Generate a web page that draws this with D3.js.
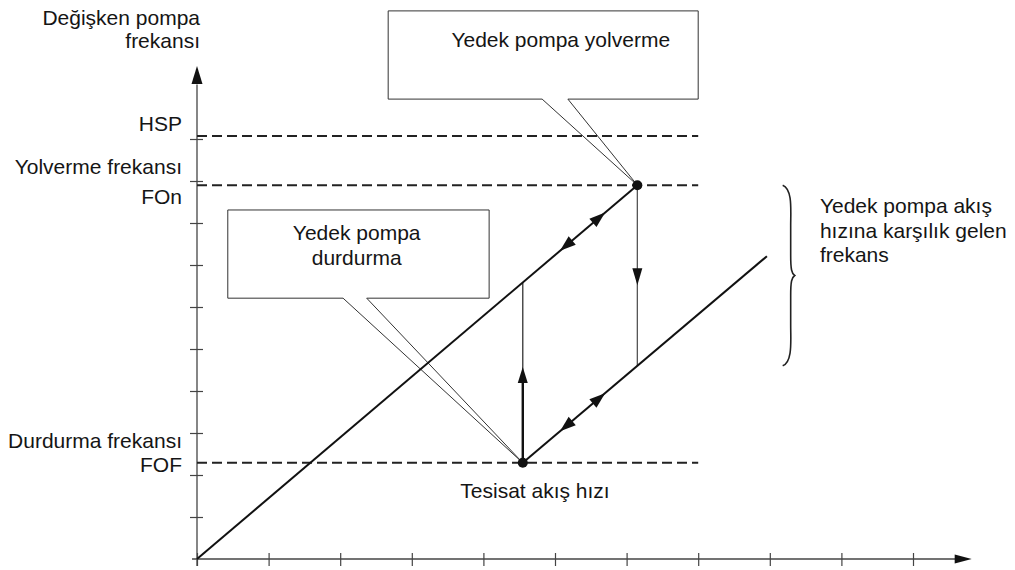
<!DOCTYPE html>
<html>
<head>
<meta charset="utf-8">
<script src="https://cdn.jsdelivr.net/npm/d3@7"></script>
<style>
body { margin: 0; background: #fff; }
text { font-family: "Liberation Sans", Arial, sans-serif; font-size: 21px; fill: #151515; }
</style>
</head>
<body>
<script>
// chart units: x = flow, y = pump frequency
var xTicks = [0, 1, 2, 3, 4, 5, 6, 7, 8, 9, 10];
var yTicks = [1, 2, 3, 4, 5, 6, 7, 8, 9, 10];

var levelNames = ["HSP", "FOn", "FOF"];
var levelValues = [10.07, 8.9, 2.29];
var levelLabels = [["HSP"], ["Yolverme frekansı", "FOn"], ["Durdurma frekansı", "FOF"]];
var levelEnd = 7;

var mainLine = [[0, 0], [6.15, 8.9]];
var standbyLine = [[4.55, 2.29], [7.96, 7.21]];
var startPoint = [6.15, 8.9];
var stopPoint = [4.55, 2.29];
var lineArrowsX = [5.07, 5.70];
var upArrowTip = 4.57;
var downArrowTip = 6.52;

var yTitle = ["Değişken pompa", "frekansı"];
var xTitle = "Tesisat akış hızı";
var startText = ["Yedek pompa yolverme"];
var stopText = ["Yedek pompa", "durdurma"];
var braceText = ["Yedek pompa akış", "hızına karşılık gelen", "frekans"];

var width = 1015, height = 570;

var svg = d3.select("body").append("svg")
    .attr("width", width)
    .attr("height", height);

var x = d3.scaleLinear().domain([0, 10]).range([197, 913]);
var y = d3.scaleLinear().domain([0, 10]).range([559, 139]);

function lineY(l, t) {
  var s = (l[1][1] - l[0][1]) / (l[1][0] - l[0][0]);
  return l[0][1] + s * (t - l[0][0]);
}

function arrowHead(g, tip, a, len, half) {
  var bx = tip[0] - len * Math.cos(a), by = tip[1] - len * Math.sin(a);
  var px = -Math.sin(a) * half, py = Math.cos(a) * half;
  g.append("path")
    .attr("d", "M" + tip[0] + "," + tip[1] + "L" + (bx + px) + "," + (by + py) + "L" + (bx - px) + "," + (by - py) + "Z")
    .attr("fill", "#111");
}

// callouts (drawn first so lines sit on top)
var callouts = svg.append("g");
function callout(x0, x1, y0, y1, b0, b1, target, textX, lines, baseY) {
  var p = "M" + x(x0) + "," + y(y0) + "H" + x(x1) + "V" + y(y1) + "H" + x(b1) +
          "L" + x(target[0]) + "," + y(target[1]) + "L" + x(b0) + "," + y(y1) + "H" + x(x0) + "Z";
  callouts.append("path").attr("d", p).attr("fill", "#fff").attr("stroke", "#333").attr("stroke-width", 1);
  callouts.selectAll(null).data(lines).enter().append("text")
    .attr("x", x(textX))
    .attr("y", function(d, i) { return baseY + i * 25; })
    .attr("text-anchor", "middle")
    .text(function(d) { return d; });
}
callout(2.67, 7.0, 13.05, 10.95, 4.82, 5.18, startPoint, 5.08, startText, 47);
callout(0.43, 4.08, 8.31, 6.21, 2.04, 2.37, stopPoint, 2.23, stopText, 240);

// axes
var xAxis = svg.append("g").attr("transform", "translate(0," + y(0) + ")")
    .call(d3.axisBottom(x).tickValues(xTicks).tickSize(7).tickSizeOuter(0).tickFormat(""));
xAxis.select(".domain").remove();
xAxis.selectAll(".tick line").attr("y1", -6).attr("stroke", "#444").attr("stroke-width", 1.2);

var yAxis = svg.append("g").attr("transform", "translate(" + x(0) + ",0)")
    .call(d3.axisLeft(y).tickValues(yTicks).tickSize(7).tickSizeOuter(0).tickFormat(""));
yAxis.select(".domain").remove();
yAxis.selectAll(".tick line").attr("x1", 6).attr("stroke", "#444").attr("stroke-width", 1.2);

svg.append("line").attr("x1", x(0) - 5).attr("x2", x(10.6)).attr("y1", y(0)).attr("y2", y(0))
  .attr("stroke", "#444").attr("stroke-width", 1.3);
svg.append("line").attr("x1", x(0)).attr("x2", x(0)).attr("y1", y(0) + 7).attr("y2", y(11.3))
  .attr("stroke", "#444").attr("stroke-width", 1.3);
arrowHead(svg, [x(10.82), y(0)], 0, 17, 4.5);
arrowHead(svg, [x(0), y(11.74)], -Math.PI / 2, 18, 5.5);

// level lines
svg.selectAll(".level").data(levelValues).enter().append("line")
  .attr("class", "level")
  .attr("x1", x(0)).attr("x2", x(levelEnd))
  .attr("y1", function(d) { return y(d); })
  .attr("y2", function(d) { return y(d); })
  .attr("stroke", "#222").attr("stroke-width", 2)
  .attr("stroke-dasharray", "10,5");

// level labels
var labelOffsets = [[-5], [-11, 19], [-15, 9]];
levelLabels.forEach(function(lines, i) {
  svg.selectAll(null).data(lines).enter().append("text")
    .attr("x", 182)
    .attr("y", function(d, j) { return y(levelValues[i]) + labelOffsets[i][j]; })
    .attr("text-anchor", "end")
    .text(function(d) { return d; });
});

// axis titles
svg.selectAll(null).data(yTitle).enter().append("text")
  .attr("x", 200).attr("y", function(d, i) { return 25 + i * 23; })
  .attr("text-anchor", "end")
  .text(function(d) { return d; });
svg.append("text").attr("x", 535).attr("y", 498).attr("text-anchor", "middle").text(xTitle);

// vertical transitions
svg.append("line")
  .attr("x1", x(stopPoint[0])).attr("x2", x(stopPoint[0]))
  .attr("y1", y(upArrowTip) + 14).attr("y2", y(lineY(mainLine, stopPoint[0])))
  .attr("stroke", "#333").attr("stroke-width", 1.3);
svg.append("line")
  .attr("x1", x(stopPoint[0])).attr("x2", x(stopPoint[0]))
  .attr("y1", y(stopPoint[1])).attr("y2", y(upArrowTip) + 10)
  .attr("stroke", "#111").attr("stroke-width", 2.4);
arrowHead(svg, [x(stopPoint[0]), y(upArrowTip)], -Math.PI / 2, 16, 5);

svg.append("line")
  .attr("x1", x(startPoint[0])).attr("x2", x(startPoint[0]))
  .attr("y1", y(startPoint[1])).attr("y2", y(lineY(standbyLine, startPoint[0])))
  .attr("stroke", "#555").attr("stroke-width", 1.3);
arrowHead(svg, [x(startPoint[0]), y(downArrowTip)], Math.PI / 2, 17, 5);

// frequency lines
var line = d3.line().x(function(d) { return x(d[0]); }).y(function(d) { return y(d[1]); });
[mainLine, standbyLine].forEach(function(l) {
  svg.append("path").attr("d", line(l)).attr("fill", "none")
    .attr("stroke", "#111").attr("stroke-width", 2);
  var ang = Math.atan2(y(l[1][1]) - y(l[0][1]), x(l[1][0]) - x(l[0][0]));
  arrowHead(svg, [x(lineArrowsX[1]), y(lineY(l, lineArrowsX[1]))], ang, 16, 5.5);
  arrowHead(svg, [x(lineArrowsX[0]), y(lineY(l, lineArrowsX[0]))], ang + Math.PI, 16, 5.5);
});

// switch points
svg.selectAll(".pt").data([startPoint, stopPoint]).enter().append("circle")
  .attr("class", "pt")
  .attr("cx", function(d) { return x(d[0]); })
  .attr("cy", function(d) { return y(d[1]); })
  .attr("r", 5).attr("fill", "#111");

// brace for standby pump frequency span
var bx = x(8.18), bTop = y(startPoint[1]), bBot = y(lineY(standbyLine, startPoint[0])), bMid = (bTop + bBot) / 2;
svg.append("path")
  .attr("d", "M" + bx + "," + bTop +
    "C" + (bx + 10) + "," + (bTop + 4) + " " + (bx + 8) + "," + (bTop + 25) + " " + (bx + 8) + "," + (bTop + 40) +
    "L" + (bx + 8) + "," + (bMid - 20) +
    "C" + (bx + 8) + "," + (bMid - 6) + " " + (bx + 9) + "," + (bMid - 2) + " " + (bx + 12) + "," + bMid +
    "C" + (bx + 9) + "," + (bMid + 2) + " " + (bx + 8) + "," + (bMid + 6) + " " + (bx + 8) + "," + (bMid + 20) +
    "L" + (bx + 8) + "," + (bBot - 40) +
    "C" + (bx + 8) + "," + (bBot - 25) + " " + (bx + 10) + "," + (bBot - 4) + " " + bx + "," + bBot)
  .attr("fill", "none").attr("stroke", "#222").attr("stroke-width", 1.6);

svg.selectAll(null).data(braceText).enter().append("text")
  .attr("x", x(8.7))
  .attr("y", function(d, i) { return 213 + i * 24.5; })
  .text(function(d) { return d; });
</script>
</body>
</html>
